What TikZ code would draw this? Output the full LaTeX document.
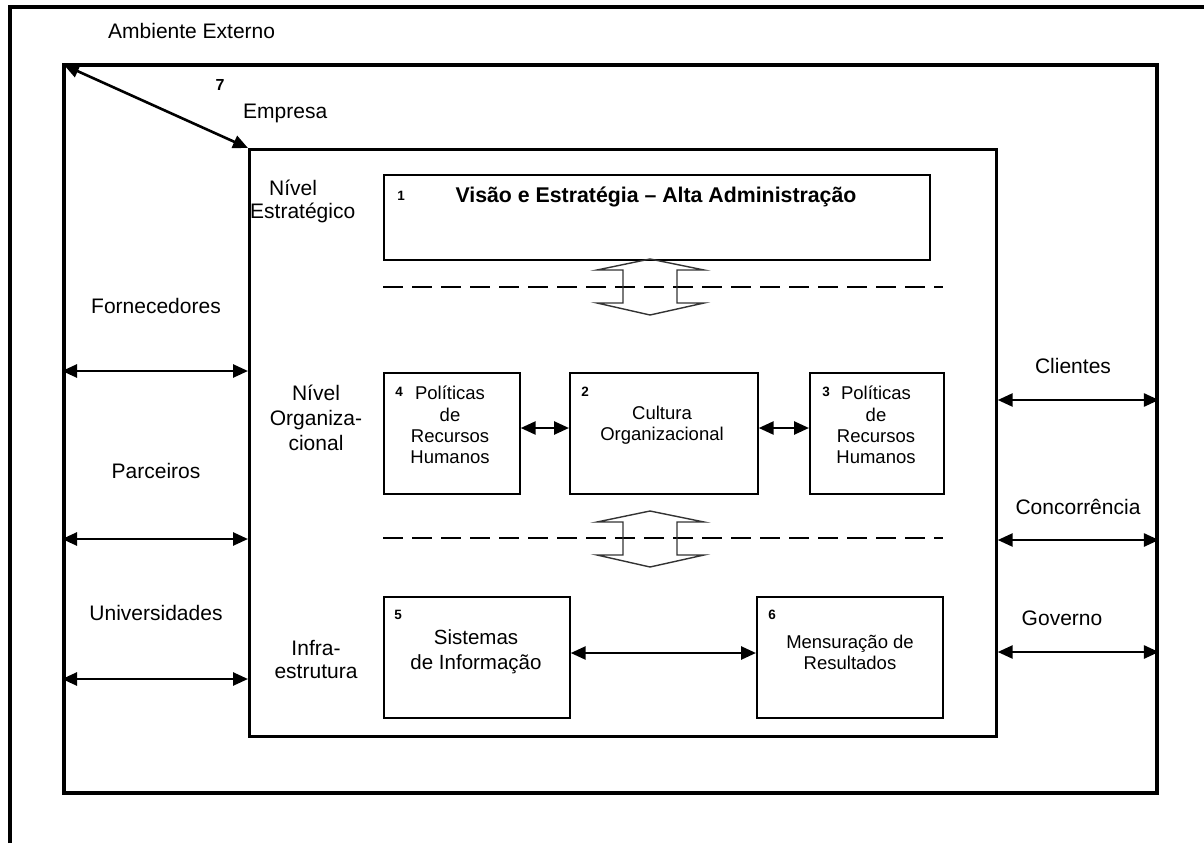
\documentclass[tikz,border=0pt]{standalone}
\usepackage{fontspec}
\setmainfont{Liberation Sans}
\usetikzlibrary{arrows.meta}
\begin{document}
\begin{tikzpicture}[x=1pt,y=-1pt,
  frame/.style={draw, line width=3.9pt},
  empbox/.style={draw, line width=2.7pt},
  box/.style={draw, line width=1.7pt},
  dbl/.style={{Triangle[length=15pt,width=13pt]}-{Triangle[length=15pt,width=13pt]}, line width=2.6pt},
  hollow/.style={draw=black!80, line width=1.4pt},
  sep/.style={line width=2.6pt, dash pattern=on 20pt off 9pt},
  lbl/.style={font=\fontsize{21}{25}\selectfont, inner sep=0pt, align=center},
  btxt/.style={font=\fontsize{18.5}{21.3}\selectfont, inner sep=0pt, align=center},
  num/.style={font=\bfseries\fontsize{13.5}{16}\selectfont, inner sep=0pt}]
\useasboundingbox (0,0) rectangle (1204,843);
% outer environment
\draw[line width=3.6pt] (10,843) -- (10,7) -- (1204,7);
\node[lbl, anchor=west] (amb) at (108,31) {Ambiente Externo};
% second frame
\node[frame, minimum width=1093, minimum height=728, anchor=north west, inner sep=0] (env) at (62,63) {};
% company box
\node[empbox, minimum width=747, minimum height=587, anchor=north west, inner sep=0] (emp) at (248,148) {};
\node[num, font=\bfseries\fontsize{16}{18}\selectfont] (n7) at (220,85) {7};
\node[lbl, anchor=west] (empl) at (243,113) {Empresa};
\draw[dbl] (env.north west) ++(2,2) coordinate (c7) (c7) -- (emp.north west);

% level labels
\node[lbl, align=left, anchor=west, font=\fontsize{21}{23}\selectfont] (lvl1) at (250,201) {\hspace*{19pt}Nível\\Estratégico};
\node[lbl] (lvl2) at (316,418) {Nível\\Organiza-\\cional};
\node[lbl, font=\fontsize{21}{23}\selectfont] (lvl3) at (316,659) {Infra-\\estrutura};

% box 1
\node[box, minimum width=546, minimum height=85, anchor=north west, inner sep=0] (b1) at (383,174) {};
\node[num] (n1) at (401,196) {1};
\node[font=\bfseries\fontsize{21.3}{25}\selectfont, inner sep=0] (t1) at (656,197) {Visão e Estratégia – Alta Administração};

% dashed separators
\coordinate (d1a) at (383,287); \coordinate (d1b) at (943,287);
\draw[sep] (d1a) -- (d1b);
\coordinate (d2a) at (383,538); \coordinate (d2b) at (943,538);
\draw[sep] (d2a) -- (d2b);

% hollow arrows
\draw[hollow] (650,259) -- (704,270) -- (677,270) -- (677,303) -- (704,303) -- (650,315) -- (597,303) -- (623,303) -- (623,270) -- (597,270) -- cycle;
\draw[hollow] (650,511) -- (704,522) -- (677,522) -- (677,555) -- (704,555) -- (650,567) -- (597,555) -- (623,555) -- (623,522) -- (597,522) -- cycle;

% middle row
\node[box, minimum width=136, minimum height=121, anchor=north west, inner sep=0] (b4) at (383,372) {};
\node[box, minimum width=188, minimum height=121, anchor=north west, inner sep=0] (b2) at (569,372) {};
\node[box, minimum width=134, minimum height=121, anchor=north west, inner sep=0] (b3) at (809,372) {};
\node[num] (n4) at (399,392) {4};
\node[btxt] (t4) at (450,425) {Políticas\\de\\Recursos\\Humanos};
\node[num] (n2) at (585,392) {2};
\node[btxt] (t2) at (662,425.5) {Cultura\\Organizacional};
\node[num] (n3) at (826,392) {3};
\node[btxt] (t3) at (876,425) {Políticas\\de\\Recursos\\Humanos};
\draw[dbl, line width=2.6pt] (b4.east |- 0,428) -- (b2.west |- 0,428);
\draw[dbl, line width=2.6pt] (b2.east |- 0,428) -- (b3.west |- 0,428);

% bottom row
\node[box, minimum width=186, minimum height=121, anchor=north west, inner sep=0] (b5) at (383,596) {};
\node[box, minimum width=186, minimum height=121, anchor=north west, inner sep=0] (b6) at (756,596) {};
\node[num] (n5) at (398,615) {5};
\node[font=\fontsize{20.5}{25}\selectfont, inner sep=0, align=center] (t5) at (476,652) {Sistemas\\de Informação};
\node[num] (n6) at (772,615) {6};
\node[font=\fontsize{18.5}{21.5}\selectfont, inner sep=0, align=center] (t6) at (850,652.5) {Mensuração de\\Resultados};
\draw[dbl] (b5.east |- 0,653) -- (b6.west |- 0,653);

% left externals
\node[lbl] (forn) at (156,306) {Fornecedores};
\node[lbl] (parc) at (156,471) {Parceiros};
\node[lbl] (univ) at (156,613) {Universidades};
\draw[dbl] (env.west |- 0,371) -- (emp.west |- 0,371);
\draw[dbl] (env.west |- 0,539) -- (emp.west |- 0,539);
\draw[dbl] (env.west |- 0,679) -- (emp.west |- 0,679);

% right externals
\node[lbl] (cli) at (1073,366) {Clientes};
\node[lbl] (conc) at (1078,507) {Concorrência};
\node[lbl] (gov) at (1062,618) {Governo};
\draw[dbl] (emp.east |- 0,400) -- (env.east |- 0,400);
\draw[dbl] (emp.east |- 0,540) -- (env.east |- 0,540);
\draw[dbl] (emp.east |- 0,652) -- (env.east |- 0,652);
\end{tikzpicture}
\end{document}
